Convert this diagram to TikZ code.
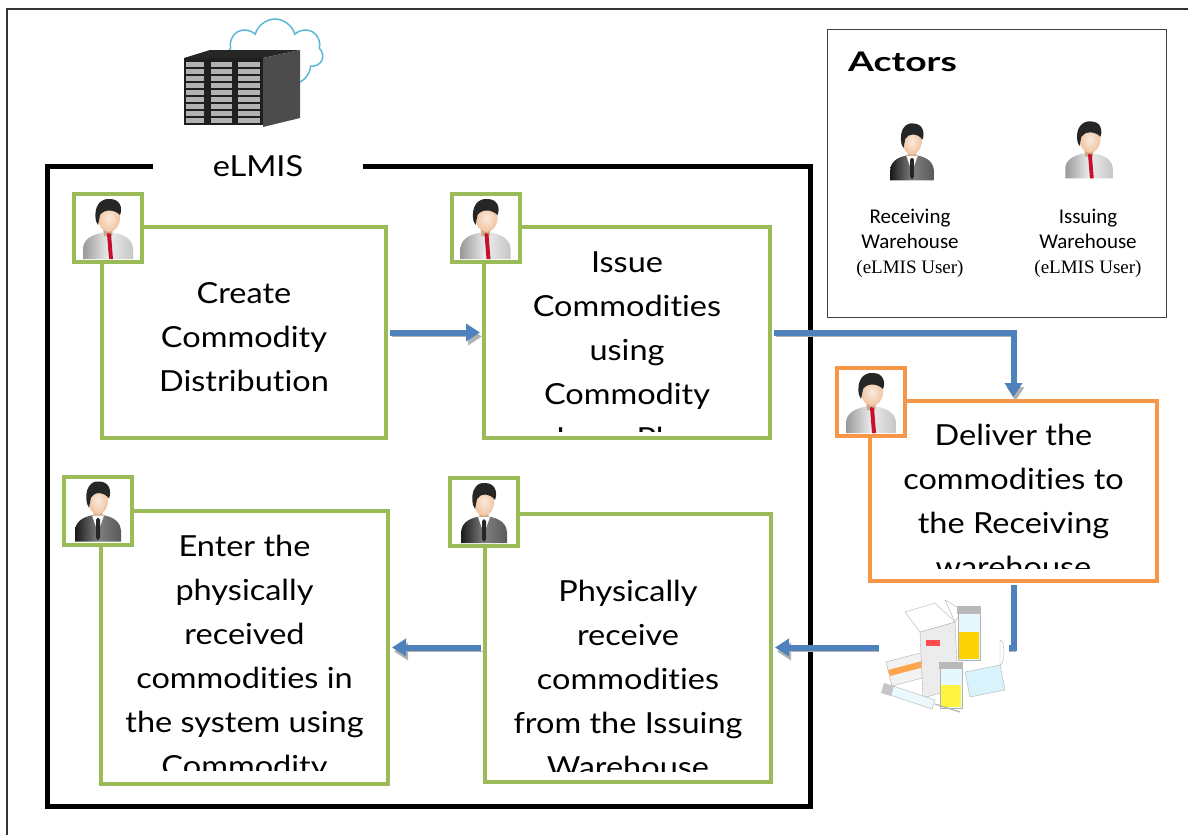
\documentclass[tikz,border=0pt]{standalone}
\usepackage{fontspec}
\usepackage{tikz}
\usetikzlibrary{arrows.meta,calc,shapes.symbols}
\newfontfamily\gillfont[FakeStretch=1.12,Ligatures=NoCommon]{Lato}
\newfontfamily\titlefont[FakeStretch=1.38]{Lato}
\newfontfamily\calfont{Carlito}
\newfontfamily\timesfont{Liberation Serif}
\definecolor{flowblue}{HTML}{4F81BD}
\definecolor{stepgreen}{HTML}{9BBB59}
\definecolor{stepORANGE}{HTML}{F79646}
\definecolor{skin}{HTML}{F0C4A0}
\definecolor{hair}{HTML}{262626}
\definecolor{tiered}{HTML}{C8102E}
\definecolor{cloudblue}{HTML}{5DB7D8}
\tikzset{
  taskbox/.style ={draw=stepgreen,line width=4pt,fill=white,inner sep=0pt},
  tripbox/.style ={draw=stepORANGE,line width=4pt,fill=white,inner sep=0pt},
  iconbox/.style ={line width=4pt,fill=white,minimum size=68pt,inner sep=0pt},
  steptext/.style={align=center,inner sep=0pt,font=\gillfont\fontsize{29}{44}\selectfont},
  actorlabel/.style={align=center,inner sep=0pt,font=\calfont\fontsize{21}{25}\selectfont},
  flow/.style    ={-{Triangle[length=14pt,width=17pt]},line width=6pt,draw=flowblue,
                   shorten >=2pt,shorten <=2pt,
                   preaction={draw=gray!60,transform canvas={shift={(2pt,-4pt)}}}},
  % issuing warehouse clerk: grey shirt, red tie
  clerk/.pic={
    \shade[left color=gray!80,right color=gray!45,middle color=gray!15]
      (-25,31) -- (-25,20) .. controls (-24,9) and (-12,5) .. (0,4)
      .. controls (12,5) and (24,9) .. (25,20) -- (25,31) -- cycle;
    \fill[skin!85!black] (-5,-1) -- (5,-1) -- (4,8) -- (-4,8) -- cycle;
    \fill[tiered] (0,5) -- (3,6) -- (5,31) -- (1,31) -- (-1,6) -- cycle;
    \shade[inner color=skin!35,outer color=skin] (1,-10) ellipse [x radius=11,y radius=14];
    \fill[hair] (-12,-7) .. controls (-15,-22) and (-7,-30) .. (2,-29)
      .. controls (12,-29) and (15,-20) .. (12,-13)
      .. controls (6,-19) and (-4,-19) .. (-8,-13) -- (-10,-3) -- cycle;
  },
  % receiving warehouse keeper: dark suit
  keeper/.pic={
    \shade[left color=black!90,right color=black!65,middle color=black!50]
      (-23,31) -- (-23,20) .. controls (-22,9) and (-12,5) .. (0,4)
      .. controls (12,5) and (22,9) .. (23,20) -- (23,31) -- cycle;
    \fill[skin!85!black] (-5,-1) -- (5,-1) -- (4,7) -- (-4,7) -- cycle;
    \fill[white] (-6,5) -- (6,5) -- (0,22) -- cycle;
    \fill[black!85] (0,7) -- (2,9) -- (2,27) -- (0,30) -- (-2,27) -- (-2,9) -- cycle;
    \shade[inner color=skin!35,outer color=skin] (0,-10) ellipse [x radius=10,y radius=14];
    \fill[hair] (-11,-7) .. controls (-14,-22) and (-7,-30) .. (1,-29)
      .. controls (11,-29) and (14,-20) .. (11,-12)
      .. controls (6,-19) and (-4,-19) .. (-7,-13) -- (-9,-3) -- cycle;
  }
}

\begin{document}
\begin{tikzpicture}[x=1pt,y=-1pt]
  \useasboundingbox (0,0) rectangle (1188,835);
  \draw[black!80,line width=1.3pt] (1188,9) -- (7,9) -- (7,835);

  % server in the cloud
  \node[cloud,cloud puffs=7,aspect=1.4,draw=cloudblue,line width=1.5pt,fill=white,
        minimum width=96pt,minimum height=68pt] (cloud) at (275,53) {};
  \fill[black!85] (184,58) -- (210,50) -- (300,50) -- (263,58) -- cycle;
  \fill[black!70] (263,58) -- (300,50) -- (300,118) -- (263,127) -- cycle;
  \fill[black!88] (184,58) rectangle (263,125);
  \foreach \px/\pw in {186/18,211/21,238/22}
    \foreach \py in {62,69,...,118}
      \fill[gray!60] (\px,\py) rectangle ++(\pw,4.5);

  % eLMIS system frame
  \draw[line width=5pt] (47,166) rectangle (810,806);
  \node[fill=white,minimum width=210pt,minimum height=24pt,inner sep=0pt,
        font=\gillfont\fontsize{29}{34}\selectfont] (elmis) at (258,166) {eLMIS};

  % process steps
  \node[taskbox,minimum width=284pt,minimum height=211pt] (create)   at (244,332.5) {};
  \node[taskbox,minimum width=286pt,minimum height=211pt] (issue)    at (627,332.5) {};
  \node[tripbox,minimum width=287pt,minimum height=180pt] (deliver)  at (1013.5,491) {};
  \node[taskbox,minimum width=287pt,minimum height=273pt] (enter)    at (244.5,647.5) {};
  \node[taskbox,minimum width=286pt,minimum height=268pt] (physical) at (628,647.5) {};

  \node[steptext] at (create) {\strut Create\\Commodity\\Distribution};
  \begin{scope}
    \clip ($(issue.south west)+(0,-9)$) rectangle (issue.north east);
    \node[steptext,anchor=north] at ($(issue.north)+(0,16)$)
      {\strut Issue\\Commodities\\using\\Commodity\\Issue Plan};
  \end{scope}
  \begin{scope}
    \clip ($(deliver.south west)+(0,-15)$) rectangle (deliver.north east);
    \node[steptext,anchor=north] at ($(deliver.north)+(0,15)$)
      {\strut Deliver the\\commodities to\\the Receiving\\warehouse};
  \end{scope}
  \begin{scope}
    \clip ($(enter.south west)+(0,-16)$) rectangle (enter.north east);
    \node[steptext,anchor=north] at ($(enter.north)+(0,16)$)
      {\strut Enter the\\physically\\received\\commodities in\\the system using\\Commodity};
  \end{scope}
  \begin{scope}
    \clip ($(physical.south west)+(0,-12)$) rectangle (physical.north east);
    \node[steptext,anchor=north] at ($(physical.north)+(0,59)$)
      {\strut Physically\\receive\\commodities\\from the Issuing\\Warehouse};
  \end{scope}

  % who does each step
  \node[iconbox,draw=stepgreen]  (createicon)   at (108,228) {};
  \node[iconbox,draw=stepgreen]  (issueicon)    at (485.5,228) {};
  \node[iconbox,draw=stepORANGE] (delivericon)  at (871,402) {};
  \node[iconbox,draw=stepgreen]  (entericon)    at (98,510.5) {};
  \node[iconbox,draw=stepgreen]  (physicalicon) at (484,512) {};
  \pic at (createicon) {clerk};
  \pic at (issueicon) {clerk};
  \pic at (delivericon) {clerk};
  \pic at (entericon) {keeper};
  \pic at (physicalicon) {keeper};

  % flow
  \draw[flow] (create) -- (issue);
  \draw[flow] (issue.east) -| (deliver.north);
  \draw[flow] (deliver.south) |- (physical.east);
  \draw[flow] (physical.west) -- (enter.east |- physical.west);

  % commodities parcel
  \fill[white] (879,598) rectangle (1009,712);
  \fill[gray!10,draw=gray!60] (886,662) -- (924,652) -- (930,676) -- (892,686) -- cycle;
  \fill[orange!70] (888,670) -- (926,660) -- (928,666) -- (890,676) -- cycle;
  \fill[gray!15,draw=gray!60] (920,632) -- (955,622) -- (958,688) -- (923,698) -- cycle;
  \fill[white,draw=gray!60] (920,632) -- (905,612) -- (935,603) -- (955,622) -- cycle;
  \fill[white,draw=gray!60] (955,622) -- (945,600) -- (962,610) -- cycle;
  \fill[red!70] (926,640) rectangle (940,646);
  \fill[white!90!cyan,draw=gray!60] (958,612) rectangle (980,660);
  \fill[yellow!70!orange] (959,632) rectangle (979,659);
  \fill[gray!55] (957,606) rectangle (981,614);
  \fill[white!90!cyan,draw=gray!60] (940,668) rectangle (962,708);
  \fill[yellow!75] (941,685) rectangle (961,707);
  \fill[gray!55] (939,662) rectangle (963,669);
  \fill[cyan!15,draw=gray!60] (965,672) -- (1000,665) -- (1005,690) -- (970,697) -- cycle;
  \fill[white,draw=gray!60] (1000,665) arc[start angle=90,end angle=-90,x radius=4,y radius=12.5] -- cycle;
  % syringe
  \fill[cyan!8,draw=gray!60] (893,686) -- (935,700) -- (932,709) -- (890,695) -- cycle;
  \draw[gray!60,line width=1.2pt] (935,704) -- (960,712);
  \fill[gray!45] (884,683) -- (894,686) -- (891,696) -- (881,693) -- cycle;

  % actors legend
  \node[draw=black!75,line width=1.3pt,minimum width=339pt,minimum height=288pt,
        inner sep=0pt] (actors) at (997,173.5) {};
  \node[anchor=base west,inner sep=0pt,font=\titlefont\bfseries\fontsize{27}{30}\selectfont]
    (actorstitle) at (848,71) {Actors};
  \pic[scale=0.95] at (912,151) {keeper};
  \pic[scale=0.95] at (1089,149) {clerk};
  \node[actorlabel,anchor=north] (recvlabel) at (910,206)
    {\strut Receiving\\Warehouse\\{\timesfont\fontsize{19}{25}\selectfont (eLMIS User)}};
  \node[actorlabel,anchor=north] (issuelabel) at (1088,206)
    {\strut Issuing\\Warehouse\\{\timesfont\fontsize{19}{25}\selectfont (eLMIS User)}};
\end{tikzpicture}
\end{document}
